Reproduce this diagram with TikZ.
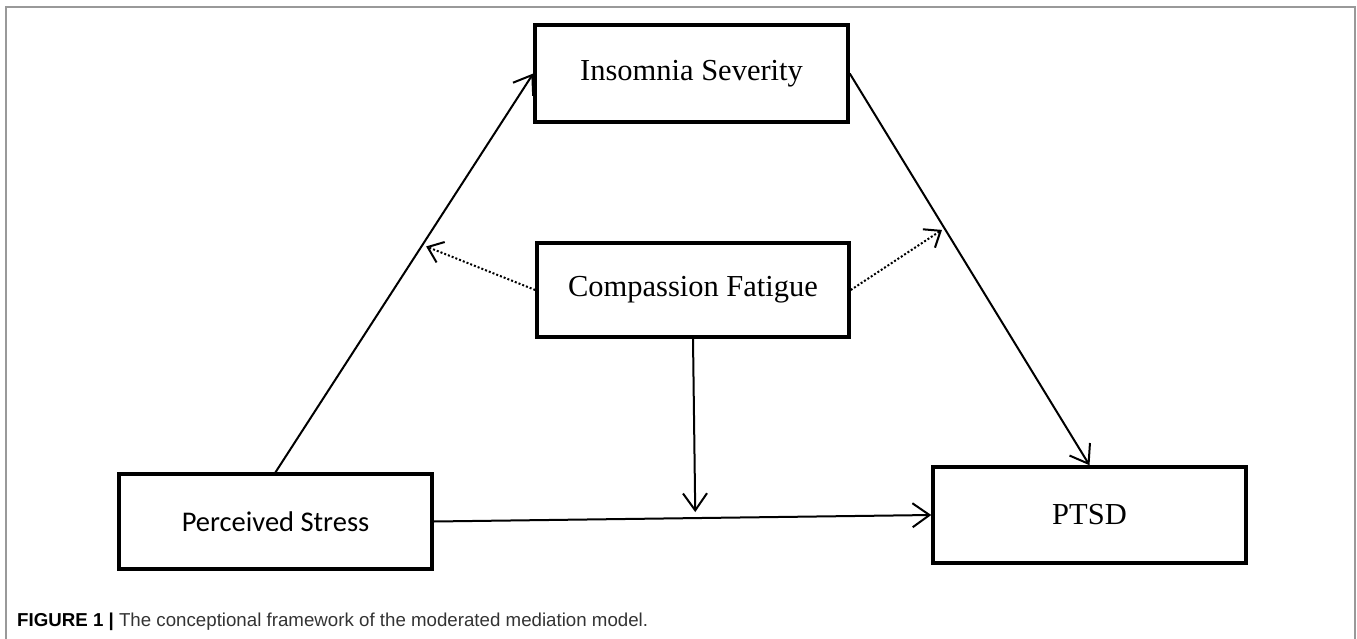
\documentclass[tikz,border=0pt]{standalone}
\usepackage{fontspec}
\setmainfont{Liberation Serif}
\newfontfamily\calib{Carlito}
\newfontfamily\capfont{Liberation Sans}
\usetikzlibrary{arrows.meta,calc}
\begin{document}
\begin{tikzpicture}[x=1pt,y=-1pt,
  box/.style={draw=black,line width=3.5pt,inner sep=0pt,fill=white,
    font=\fontsize{30.5}{36}\selectfont},
  arr/.style={line width=2pt,-{Straight Barb[length=17pt,width=24pt]}},
  dotarr/.style={line width=2pt,dash pattern=on 2pt off 2pt,-{Straight Barb[length=14pt,width=22pt]}}]
\useasboundingbox (0,0) rectangle (1357,639);
\draw[gray!80,line width=1.5pt] (6,645) -- (6,7) -- (1355,7) -- (1355,645);
\node[box,minimum width=313pt,minimum height=97pt] (ins) at (691.5,73.5) {Insomnia Severity};
\node[box,minimum width=312pt,minimum height=94pt] (cf) at (693,290) {Compassion Fatigue};
\node[box,minimum width=313pt,minimum height=95pt,font=\calib\fontsize{28.5}{34}\selectfont] (ps) at (275.5,521.5) {Perceived Stress};
\node[box,minimum width=313pt,minimum height=96pt] (ptsd) at (1089.5,515) {PTSD};
\coordinate (m1) at ($(ps.north)!0.57!(ins.west)$);
\coordinate (m2) at ($(ins.east)!0.395!(ptsd.north)$);
\coordinate (m3) at ($(ps.east)!(cf.south)!(ptsd.west)$);
\draw[arr] (ps.north) -- (ins.west);
\draw[arr] (ins.east) -- (ptsd.north);
\draw[arr] (ps.east) -- (ptsd.west);
\draw[arr,shorten >=6pt] (cf.south) -- (m3);
\draw[dotarr,shorten >=4pt] (cf.west) -- (m1);
\draw[dotarr,shorten >=3pt] (cf.east) -- (m2);
\node[anchor=west,inner sep=0pt,font=\capfont\fontsize{18.7}{22}\selectfont,text=black!80] (cap) at (17,622)
  {\textbf{\color{black}FIGURE 1 |} The conceptional framework of the moderated mediation model.};
\end{tikzpicture}
\end{document}
